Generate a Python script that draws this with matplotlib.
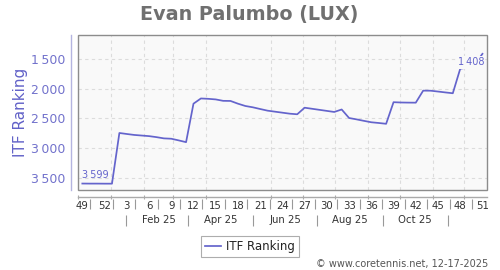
import numpy as np
import pandas as pd
import matplotlib
matplotlib.use('Agg')
import matplotlib.pyplot as plt
import matplotlib.dates as mdates
from matplotlib.patches import Rectangle

# ---------------- data ----------------
title = 'Evan Palumbo (LUX)'
series_name = 'ITF Ranking'
footer = '\u00a9 www.coretennis.net, 12-17-2025'
start_date = '2024-12-05'
rank = [3599, 3600, 3600, 3601, 3601,
        2745, 2762, 2778, 2788, 2798, 2815, 2836, 2842, 2870, 2900,
        2250, 2162, 2168, 2178, 2202, 2204, 2250, 2289, 2311, 2340,
        2368, 2385, 2402, 2419, 2429, 2318, 2336, 2354, 2372, 2390,
        2348, 2492, 2515, 2540, 2564, 2576, 2590, 2225, 2230, 2232,
        2233, 2030, 2031, 2045, 2060, 2074, 1660, 1640, 1580, 1408]
week_labels = ['49', '52', '3', '6', '9', '12', '15', '18', '21', '24',
               '27', '30', '33', '36', '39', '42', '45', '48', '51']
month_labels = ['Feb 25', 'Apr 25', 'Jun 25', 'Aug 25', 'Oct 25']
month_label_dates = ['2025-02-15', '2025-04-15', '2025-06-15',
                     '2025-08-15', '2025-10-15']
month_sep_dates = ['2025-01-15', '2025-03-15', '2025-05-15',
                   '2025-07-15', '2025-09-15', '2025-11-15']
y_ticks = [1500, 2000, 2500, 3000, 3500]

# ---------------- style ----------------
LINE = '#6464cc'
AXBLUE = '#7272cc'
GRID = '#dcdcdc'
GRAY = '#999999'

def fmt(v):
    return f'{v:,}'.replace(',', '\u2009')

dates = pd.date_range(start_date, periods=len(rank), freq='7D')
x = mdates.date2num(dates)

W, H = 500, 270
fig = plt.figure(figsize=(W / 100, H / 100), dpi=100)
L, R, T, B = 78, 487, 35, 190
ax = fig.add_axes([L / W, 1 - B / H, (R - L) / W, (B - T) / H])
ax.set_facecolor('#f9f9f9')

ax.plot(x, rank, color=LINE, lw=1.25, label=series_name, zorder=3)
ax.set_ylim(3708, 1090)
ax.set_xlim(x[0] - 4.1, x[0] + 382.3)

# y axis
ax.set_yticks(y_ticks)
ax.set_yticklabels([fmt(v) for v in y_ticks])
ax.tick_params(axis='y', length=0, pad=4.3, labelsize=9, labelcolor=AXBLUE)

# x axis: week labels as major, month starts as minor (grid)
ax.set_xticks(x[::3])
ax.set_xticklabels(week_labels)
ax.xaxis.set_minor_locator(mdates.MonthLocator())
ax.tick_params(axis='x', which='major', length=0, pad=2.8, labelsize=7.3,
               labelcolor='#333333')
ax.tick_params(axis='x', which='minor', length=3, direction='inout',
               color='#aaaaaa', width=0.8)

ax.xaxis.grid(False, which='major')
ax.xaxis.grid(True, which='minor', linestyle=(0, (3, 3)), color=GRID, lw=0.8)
ax.yaxis.grid(True, which='major', linestyle=(0, (3, 3)), color=GRID, lw=0.8)
ax.set_axisbelow(True)

for s in ('top', 'right'):
    ax.spines[s].set_visible(False)
ax.spines['left'].set_position(('outward', 5))
ax.spines['left'].set_color('#b4b4e0')
ax.spines['left'].set_linewidth(1)
ax.spines['bottom'].set_position(('outward', 5))
ax.spines['bottom'].set_color('#aaaaaa')
ax.spines['bottom'].set_linewidth(1)

ax.add_patch(Rectangle((0, 0), 1, 1, transform=ax.transAxes, fill=False,
                       edgecolor='#8c8c8c', lw=1, clip_on=False, zorder=5))

xt = ax.get_xaxis_transform()
hpx = B - T
# week label separators
week_sep = x[0] + np.linspace(7.3, 368.4, len(week_labels) - 1)
ax.vlines(week_sep, -(198.7 - B) / hpx, -(208.7 - B) / hpx, transform=xt,
          colors=GRAY, lw=0.8, clip_on=False)
# month row
ms = mdates.date2num(pd.to_datetime(month_sep_dates))
ax.vlines(ms, -(215 - B) / hpx, -(225.5 - B) / hpx, transform=xt,
          colors=GRAY, lw=0.8, clip_on=False)
for lab, d in zip(month_labels, pd.to_datetime(month_label_dates)):
    ax.text(mdates.date2num(d), -(220.3 - B) / hpx, lab, transform=xt,
            ha='center', va='center', fontsize=7.3, color='#333333')

# first / last value labels
ax.annotate(fmt(rank[0]), xy=(x[0], rank[0]), xytext=(0, 2.7),
            textcoords='offset points', ha='left', va='bottom',
            fontsize=7, color=LINE, zorder=4)
ax.annotate(fmt(rank[-1]), xy=(x[-1], rank[-1]), xytext=(1.2, -2.6),
            textcoords='offset points', ha='right', va='top',
            fontsize=7, color=LINE, zorder=4,
            bbox=dict(boxstyle='square,pad=0.12', fc='#f9f9f9', ec='none'))

# texts
fig.text(249 / W, 1 - 14.5 / H, title, ha='center', va='center',
         fontsize=13.8, fontweight='bold', color='#707070')
fig.text(21 / W, 1 - 112.5 / H, 'ITF Ranking', rotation=90, ha='center',
         va='center', fontsize=11, color='#6262c8')
fig.text(488 / W, 1 - 264 / H, footer, ha='right', va='center', fontsize=7,
         color='#555555')

leg = fig.legend(loc='center', bbox_to_anchor=(250 / W, 1 - 246.2 / H),
                 fontsize=8.5, frameon=True, fancybox=False,
                 edgecolor='#999999', handlelength=1.4, handletextpad=0.4,
                 borderpad=0.35, borderaxespad=0)
leg.get_frame().set_linewidth(0.8)
for t in leg.get_texts():
    t.set_color('#222222')

fig.savefig('out.png', dpi=100, facecolor='white')
